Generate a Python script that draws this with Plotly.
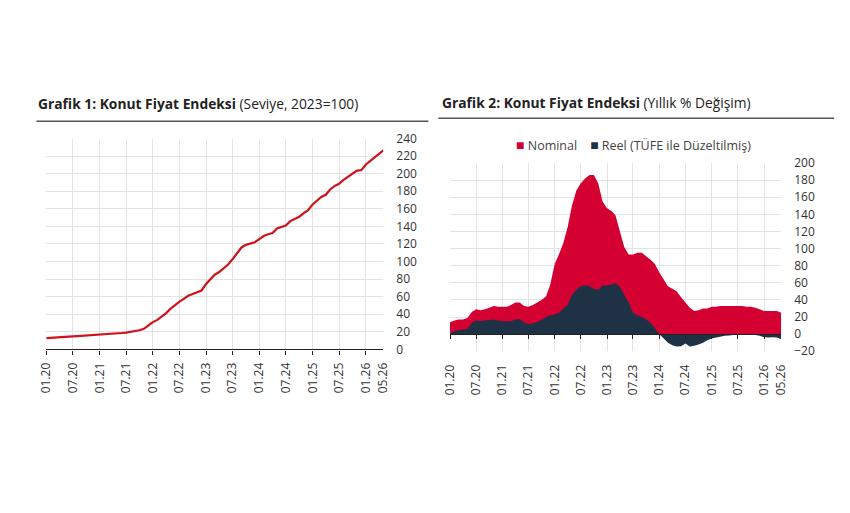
import pandas as pd
import plotly.graph_objects as go

# ---------------- data ----------------
dates = pd.date_range("2020-01-01", periods=77, freq="MS")

kfe_index = [12.8, 13.0, 13.2, 13.4, 13.7, 14.3, 14.7, 15.0, 15.3, 15.6, 15.9, 16.2,
             16.5, 16.9, 17.3, 17.7, 18.2, 18.6, 19.1, 19.8, 20.7, 21.7, 23.4, 27.5,
             31.0, 33.5, 37.0, 41.0, 46.0, 50.5, 54.0, 57.5, 61.0, 63.0, 65.0, 67.0,
             74.5, 79.5, 85.0, 88.0, 92.0, 96.5, 102.5, 109.0, 116.0, 119.0, 120.5, 122.0,
             125.5, 129.0, 131.0, 132.5, 137.5, 139.5, 141.0, 146.0, 148.5, 151.0, 155.0, 158.5,
             165.0, 170.0, 173.5, 176.0, 182.0, 186.0, 188.5, 193.0, 196.5, 199.5, 203.5, 204.0,
             210.5, 214.5, 218.5, 222.5, 226.5]

nominal = [14, 16, 17, 17, 19, 26, 29, 28, 29, 31, 33, 32,
           32, 32, 34, 37, 37, 33, 32, 34, 37, 40, 44, 58,
           82, 94, 106, 125, 150, 168, 176, 182, 186, 186, 176, 155,
           147, 144, 139, 120, 102, 93, 93, 95, 95, 91, 87, 82,
           72, 64, 56, 53, 50, 43, 37, 31, 27, 28, 30, 30,
           32, 32, 33, 33, 33, 33, 33, 33, 32, 32, 31, 29,
           27, 27, 27, 27, 25]

reel = [1, 3, 5, 5.5, 6, 13, 16, 15.5, 16, 16.5, 17, 16,
        15, 15, 15, 17, 17.5, 14, 12, 12.5, 14.5, 16.5, 20, 22,
        23, 25, 30, 34, 46, 52, 56, 57, 56, 53, 52, 57,
        57, 58, 59.5, 55, 46, 37, 25, 22, 20, 17, 13, 7,
        0, -5, -10, -13, -14.5, -14, -11, -14.5, -13.5, -12, -10, -7,
        -5, -4, -3, -2, -1.5, -1, -0.5, -0.5, -0.5, -0.5, -1, -2,
        -3.5, -4, -3.5, -4, -6]

tick_dates = ["2020-01-01", "2020-07-01", "2021-01-01", "2021-07-01", "2022-01-01",
              "2022-07-01", "2023-01-01", "2023-07-01", "2024-01-01", "2024-07-01",
              "2025-01-01", "2025-07-01", "2026-01-01", "2026-05-01"]
tick_labels = ["01.20", "07.20", "01.21", "07.21", "01.22", "07.22", "01.23",
               "07.23", "01.24", "07.24", "01.25", "07.25", "01.26", "05.26"]

title1_bold = "Grafik 1: Konut Fiyat Endeksi"
title1_rest = "(Seviye, 2023=100)"
title2_bold = "Grafik 2: Konut Fiyat Endeksi"
title2_rest = "(Yıllık % Değişim)"
name_nom = "Nominal"
name_reel = "Reel (TÜFE ile Düzeltilmiş)"

# ---------------- style ----------------
W, H = 850, 513
FONT = "Open Sans"
TXT = "#333333"
GRID = "#E3E3E3"
RED_LINE = "#D0121B"
RED_AREA = "#D50032"
NAVY = "#1E3145"

def px_x(p):
    return p / W

def px_y(p):
    return 1 - p / H

L_dom_x = [px_x(38), px_x(382)]
L_dom_y = [px_y(352), px_y(134)]
R_dom_x = [px_x(450), px_x(788)]
R_dom_y = [px_y(354), px_y(159.3)]

y2_range = [-20, 200]
zero_pos = R_dom_y[0] + (R_dom_y[1] - R_dom_y[0]) * (0 - y2_range[0]) / (y2_range[1] - y2_range[0])

x_range = [dates[0], dates[-1]]

fig = go.Figure()

# placeholder (no visible points) so that the label axes get drawn
fig.add_trace(go.Scatter(x=[dates[0]], y=[None], mode="lines", xaxis="x", yaxis="y",
                         showlegend=False, hoverinfo="skip"))
fig.add_trace(go.Scatter(x=[dates[0]], y=[None], mode="lines", xaxis="x2", yaxis="y2",
                         showlegend=False, hoverinfo="skip"))

fig.add_trace(go.Scatter(x=dates, y=kfe_index, mode="lines",
                         line=dict(color=RED_LINE, width=2.2),
                         xaxis="x3", yaxis="y", showlegend=False))

fig.add_trace(go.Scatter(x=dates, y=nominal, mode="none", fill="tozeroy",
                         fillcolor=RED_AREA, name=name_nom,
                         xaxis="x4", yaxis="y2", showlegend=False))
fig.add_trace(go.Scatter(x=dates, y=reel, mode="none", fill="tozeroy",
                         fillcolor=NAVY, name=name_reel,
                         xaxis="x4", yaxis="y2", showlegend=False))

label_axis = dict(
    type="date", range=x_range, tickmode="array", tickvals=tick_dates, ticktext=tick_labels,
    tickangle=-90, showgrid=False, showline=False, ticks="", zeroline=False,
    tickfont=dict(family=FONT, size=12, color=TXT), ticklabelstandoff=10,
)
grid_axis = dict(
    type="date", range=x_range, tickmode="array", tickvals=tick_dates[:-1],
    showticklabels=False, showgrid=True, gridcolor=GRID, gridwidth=1,
    ticks="outside", ticklen=4, tickwidth=1.2, tickcolor="#222222",
    showline=True, linecolor="#222222", linewidth=1.4, zeroline=False,
)

fig.update_layout(
    width=W, height=H,
    margin=dict(l=0, r=0, t=0, b=0),
    paper_bgcolor="white", plot_bgcolor="white",
    font=dict(family=FONT, size=12, color=TXT),
    xaxis=dict(domain=L_dom_x, anchor="y", **label_axis),
    xaxis3=dict(overlaying="x", anchor="y", **grid_axis),
    yaxis=dict(domain=L_dom_y, anchor="x", side="right", range=[0, 240], dtick=20,
               showgrid=True, gridcolor=GRID, zeroline=False, showline=False,
               ticks="", ticklabelstandoff=12,
               tickfont=dict(family=FONT, size=12, color=TXT)),
    xaxis2=dict(domain=R_dom_x, anchor="y2", **label_axis),
    xaxis4=dict(overlaying="x2", anchor="free", position=zero_pos, **grid_axis),
    yaxis2=dict(domain=R_dom_y, anchor="x2", side="right", range=y2_range, dtick=20,
                showgrid=True, gridcolor=GRID, zeroline=False, showline=False,
                ticks="", ticklabelstandoff=12,
                tickfont=dict(family=FONT, size=12, color=TXT)),
)

annotations = [
    dict(x=px_x(28), y=px_y(98), xref="paper", yref="paper", xanchor="left", yanchor="middle",
         text=f"<b>{title1_bold}</b> {title1_rest}", showarrow=False,
         font=dict(family=FONT, size=13.8, color="#222222")),
    dict(x=px_x(440), y=px_y(97), xref="paper", yref="paper", xanchor="left", yanchor="middle",
         text=f"<b>{title2_bold}</b> {title2_rest}", showarrow=False,
         font=dict(family=FONT, size=13.8, color="#222222")),
    dict(x=px_x(637.5), y=px_y(140), xref="paper", yref="paper", xanchor="center", yanchor="middle",
         text=(f"<span style='color:{RED_AREA};font-size:14px'>■</span> {name_nom}"
               f"&nbsp;&nbsp;&nbsp;&nbsp;<span style='color:{NAVY};font-size:14px'>■</span> {name_reel}"),
         showarrow=False, font=dict(family=FONT, size=12.5, color="#444444")),
]
fig.update_layout(annotations=annotations)

fig.update_layout(shapes=[
    dict(type="line", xref="paper", yref="paper", x0=px_x(28), x1=px_x(428),
         y0=px_y(116), y1=px_y(116), line=dict(color="#555555", width=1.5)),
    dict(type="line", xref="paper", yref="paper", x0=px_x(438), x1=px_x(842),
         y0=px_y(113), y1=px_y(113), line=dict(color="#555555", width=1.5)),
])

fig.write_html("out.html")
